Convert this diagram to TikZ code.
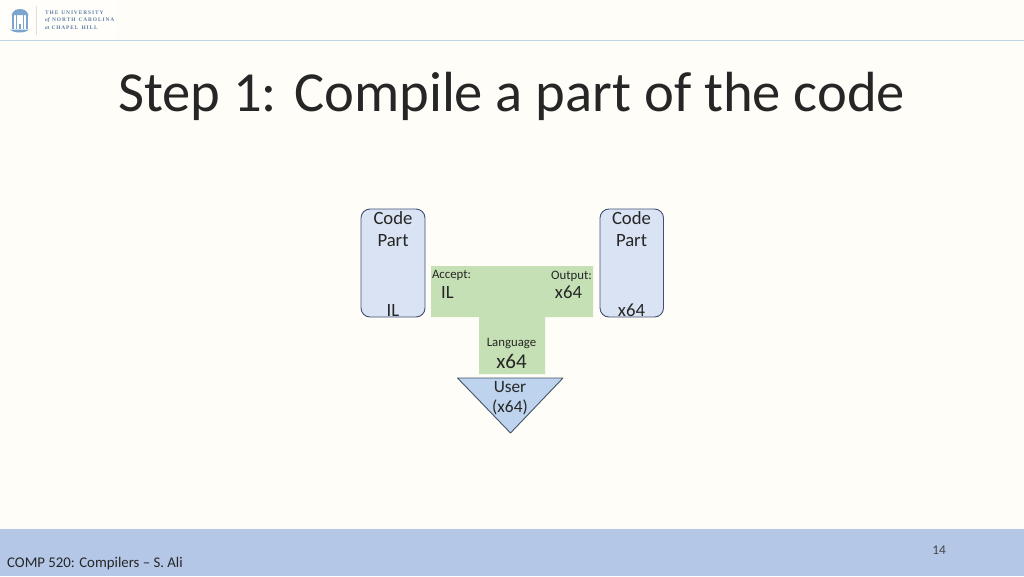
\documentclass[tikz,border=0pt]{standalone}
\usepackage{fontspec}
\setmainfont{Carlito}
\newfontfamily\logofont{Liberation Serif}
\definecolor{bgc}{HTML}{FFFDF7}
\definecolor{barc}{HTML}{B4C7E7}
\definecolor{partc}{HTML}{DAE3F3}
\definecolor{edgec}{HTML}{3F5075}
\definecolor{greenc}{HTML}{C5E0B4}
\definecolor{tric}{HTML}{BDD3EE}
\definecolor{triedge}{HTML}{44546A}
\definecolor{linec}{HTML}{BFD4E6}
\definecolor{logoc}{HTML}{7BA4D0}
\definecolor{logot}{HTML}{5F7FA5}
\definecolor{inkc}{HTML}{262626}
\tikzset{
 partbox/.style={draw=edgec,line width=0.9pt,fill=partc,rounded corners=9pt},
 lbl/.style={inner sep=0pt,text=inkc,anchor=center},
 big/.style={lbl,font=\fontsize{18.7}{18.7}\selectfont},
 small/.style={lbl,font=\fontsize{12.8}{12.8}\selectfont},
 tritext/.style={lbl,font=\fontsize{17.3}{17.3}\selectfont},
 logotext/.style={inner sep=0pt,anchor=west,text=logot,font=\logofont\bfseries\fontsize{5.4}{6}\selectfont}
}
\begin{document}
\begin{tikzpicture}[x=1pt,y=-1pt]
\useasboundingbox (0,0) rectangle (1024,576);
\fill[bgc] (0,0) rectangle (1024,576);
% header
\fill[white,opacity=0.5] (0,0) rectangle (116,39);
\draw[linec,line width=1.2pt] (0,40.5) -- (1024,40.5);
% logo
\fill[logoc] (13,12) .. controls (15,8) and (25,8) .. (27,12) -- (28.5,15) -- (11.5,15) -- cycle;
\foreach \x in {12,15.5,22.5,26} \fill[logoc] (\x,15) rectangle ++(1.8,14);
\fill[logoc] (18.7,24) rectangle (20.5,29);
\fill[logoc] (10,29.5) .. controls (14,33.5) and (25,33.5) .. (29,29.5) -- cycle;
\draw[gray!25,line width=0.6pt] (36.5,6) -- (36.5,35);
\node[logotext] (l1) at (45,13) {T\,H\,E\hspace{3pt}U\,N\,I\,V\,E\,R\,S\,I\,T\,Y};
\node[logotext] (l2) at (45,20.5) {\textit{of}\hspace{2pt}N\,O\,R\,T\,H\hspace{3pt}C\,A\,R\,O\,L\,I\,N\,A};
\node[logotext] (l3) at (45,28) {\textit{at}\hspace{2pt}C\,H\,A\,P\,E\,L\hspace{3pt}H\,I\,L\,L};
% title
\node[inner sep=0pt,anchor=base west,text=inkc,font=\fontsize{56.6}{57}\selectfont] (title) at (118,111) {Step 1: Compile a part of the code};
% footer
\fill[barc] (0,529) rectangle (1024,576);
\node[inner sep=0pt,anchor=base west,text=inkc,font=\fontsize{14.8}{15}\selectfont] (foot) at (7,567) {COMP 520: Compilers – S. Ali};
\node[inner sep=0pt,anchor=base,text=inkc!85!white,font=\fontsize{13.3}{13}\selectfont] (num) at (939,554) {14};
% parts
\draw[partbox] (361,209) rectangle (425,317);
\draw[partbox] (600,209) rectangle (663.5,317);
\node[big] (c1) at (393,218) {Code};
\node[big] (p1) at (393,240.5) {Part};
\node[big] (il) at (393,310) {IL};
\node[big] (c2) at (631.5,218) {Code};
\node[big] (p2) at (631.5,240.5) {Part};
\node[big] (x2) at (631.5,310) {x64};
% T shape
\fill[greenc] (431,266) -- (593,266) -- (593,317) -- (545,317) -- (545,374) -- (479,374) -- (479,317) -- (431,317) -- cycle;
\node[small] (acc) at (451.5,275) {Accept:};
\node[big] (il2) at (447.5,292) {IL};
\node[small] (out) at (571.5,276) {Output:};
\node[big] (x3) at (568.5,292) {x64};
\node[small] (lang) at (511.5,343) {Language};
\node[lbl,font=\fontsize{21}{21}\selectfont] (x4) at (511.5,361) {x64};
% triangle
\draw[fill=tric,draw=triedge,line width=0.9pt,line join=round] (457.5,378) -- (563,378) -- (510.5,433) -- cycle;
\node[tritext] (u) at (510,387) {User};
\node[tritext] (u2) at (510,407) {(x64)};
\end{tikzpicture}
\end{document}
